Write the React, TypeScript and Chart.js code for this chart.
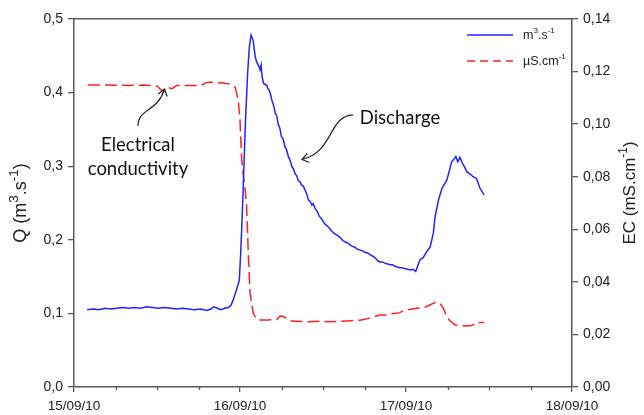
import React, { useEffect, useRef } from "react";
import { Chart, registerables } from "chart.js";

Chart.register(...registerables);

// Hours since 15/09/10 00:00
const qHours = [1.9, 2.8, 3.6, 4.5, 5.3, 6.2, 7.0, 7.9, 8.8, 9.6, 10.5, 11.4, 12.2, 13.1, 14.0, 14.8, 15.7, 16.6, 17.4, 18.3, 19.2, 19.8, 20.2, 20.7, 21.2, 21.8, 22.3, 22.7, 23.0, 23.5, 23.9, 24.1, 24.3, 24.6, 24.8, 25.1, 25.35, 25.6, 25.9, 26.2, 26.4, 26.7, 26.9, 27.05, 27.2, 27.4, 27.86, 28.0, 28.2, 28.4, 28.6, 28.85, 29.1, 29.3, 29.5, 29.75, 30.0, 30.25, 30.5, 30.75, 31.0, 31.25, 31.5, 31.7, 31.95, 32.2, 32.4, 32.65, 32.9, 33.15, 33.4, 33.65, 33.9, 34.15, 34.4, 34.6, 34.85, 35.2, 35.5, 35.85, 36.2, 36.6, 37.0, 37.35, 37.7, 38.1, 38.5, 38.85, 39.2, 39.55, 39.9, 40.25, 40.6, 41.0, 41.35, 41.7, 42.1, 42.45, 42.8, 43.15, 43.5, 43.85, 44.2, 44.6, 45.0, 45.35, 45.7, 46.05, 46.4, 46.75, 47.1, 47.45, 47.8, 48.2, 48.6, 49.0, 49.4, 50.0, 50.5, 51.0, 51.5, 51.95, 52.2, 52.7, 53.2, 53.9, 54.3, 54.6, 54.9, 55.2, 55.5, 55.8, 56.1, 56.4, 56.8, 57.3, 57.7, 58.2, 58.7, 59.3];
const qValues = [0.105, 0.106, 0.105, 0.107, 0.106, 0.107, 0.108, 0.107, 0.108, 0.107, 0.109, 0.108, 0.107, 0.108, 0.107, 0.106, 0.107, 0.106, 0.105, 0.106, 0.104, 0.106, 0.109, 0.107, 0.105, 0.107, 0.108, 0.111, 0.118, 0.132, 0.145, 0.182, 0.227, 0.308, 0.363, 0.426, 0.462, 0.478, 0.471, 0.449, 0.442, 0.436, 0.431, 0.4375, 0.4216, 0.4125, 0.41, 0.406, 0.4035, 0.398, 0.39, 0.383, 0.372, 0.369, 0.358, 0.352, 0.34, 0.337, 0.3265, 0.322, 0.313, 0.308, 0.2993, 0.297, 0.29, 0.287, 0.281, 0.279, 0.2745, 0.273, 0.2677, 0.262, 0.254, 0.252, 0.247, 0.249, 0.2428, 0.238, 0.2314, 0.228, 0.222, 0.219, 0.215, 0.211, 0.208, 0.206, 0.203, 0.199, 0.197, 0.196, 0.193, 0.191, 0.19, 0.187, 0.186, 0.185, 0.183, 0.182, 0.18, 0.178, 0.176, 0.172, 0.17, 0.17, 0.168, 0.167, 0.166, 0.166, 0.164, 0.163, 0.162, 0.162, 0.161, 0.16, 0.159, 0.16, 0.157, 0.1726, 0.176, 0.184, 0.1906, 0.209, 0.231, 0.254, 0.27, 0.281, 0.295, 0.306, 0.309, 0.313, 0.306, 0.312, 0.305, 0.3, 0.2925, 0.289, 0.2857, 0.283, 0.27, 0.261];

const ecHours = [2.0, 5.0, 8.0, 10.0, 12.0, 12.6, 13.0, 13.4, 14.2, 14.8, 16.0, 17.5, 18.5, 19.0, 19.8, 20.6, 21.2, 21.8, 22.4, 22.9, 23.3, 23.75, 24.0, 24.25, 24.5, 24.7, 24.96, 25.2, 25.45, 25.9, 26.3, 26.65, 28.0, 29.3, 29.8, 30.3, 31.2, 33.6, 35.6, 37.0, 38.5, 40.0, 41.35, 42.8, 44.2, 45.0, 46.2, 47.0, 47.6, 49.5, 50.5, 51.2, 52.2, 52.9, 53.4, 53.9, 54.4, 55.1, 56.8, 57.5, 58.2, 59.3];
const ecValues = [0.1149, 0.1149, 0.1147, 0.1149, 0.1145, 0.113, 0.1125, 0.114, 0.1135, 0.1147, 0.1147, 0.1147, 0.1149, 0.1157, 0.116, 0.1155, 0.1158, 0.1156, 0.1153, 0.1148, 0.114, 0.1092, 0.1016, 0.0864, 0.08, 0.0762, 0.0686, 0.051, 0.0358, 0.0282, 0.0262, 0.0255, 0.0255, 0.0257, 0.027, 0.0268, 0.0251, 0.0248, 0.025, 0.0248, 0.025, 0.0252, 0.0254, 0.0262, 0.0274, 0.0274, 0.028, 0.0282, 0.029, 0.03, 0.0301, 0.0309, 0.0321, 0.0319, 0.03, 0.0267, 0.025, 0.0236, 0.0232, 0.0234, 0.0245, 0.0245];

const xTickLabels = ["15/09/10", "16/09/10", "17/09/10", "18/09/10"];
// text segments: [text, isSuperscript]
const seriesLabelParts: [string, boolean][][] = [
  [["m", false], ["3", true], [".s", false], ["-1", true]],
  [["µS.cm", false], ["-1", true]],
];
const axisTitleParts: [string, boolean][][] = [
  [["Q (m", false], ["3", true], [".s", false], ["-1", true], [")", false]],
  [["EC (mS.cm", false], ["-1", true], [")", false]],
];
const annotationTexts = ["Electrical", "conductivity", "Discharge"];

const BLUE = "#2323ff";
const RED = "#ff2020";
const AXIS = "#5a5a5a";
const TXT = "#222222";
const TICK_FONT = "Liberation Sans, Arial, sans-serif";

function richText(ctx: CanvasRenderingContext2D, parts: [string, boolean][], x: number, y: number, size: number, align: "left" | "center", supScale = 0.65) {
  const big = size + "px " + TICK_FONT;
  const small = (size * supScale).toFixed(1) + "px " + TICK_FONT;
  let w = 0;
  for (const [t, sup] of parts) {
    ctx.font = sup ? small : big;
    w += ctx.measureText(t).width;
  }
  let cx = align === "center" ? x - w / 2 : x;
  ctx.textAlign = "left";
  ctx.textBaseline = "middle";
  for (const [t, sup] of parts) {
    ctx.font = sup ? small : big;
    ctx.fillText(t, cx, sup ? y - size * 0.38 : y);
    cx += ctx.measureText(t).width;
  }
}

function bezierArrow(ctx: CanvasRenderingContext2D, pts: number[][]) {
  const [p0, p1, p2, p3] = pts;
  ctx.beginPath();
  ctx.moveTo(p0[0], p0[1]);
  ctx.bezierCurveTo(p1[0], p1[1], p2[0], p2[1], p3[0], p3[1]);
  ctx.stroke();
  const ang = Math.atan2(p3[1] - p2[1], p3[0] - p2[0]);
  const L = 8;
  const a = 0.62;
  ctx.beginPath();
  ctx.moveTo(p3[0] - L * Math.cos(ang - a), p3[1] - L * Math.sin(ang - a));
  ctx.lineTo(p3[0], p3[1]);
  ctx.lineTo(p3[0] - L * Math.cos(ang + a), p3[1] - L * Math.sin(ang + a));
  ctx.stroke();
}

const decor = {
  id: "decor",
  afterDraw(chart: any) {
    const { ctx, chartArea, scales } = chart;
    const xs = scales.x;
    const ys = scales.y;
    const P = (h: number, q: number) => [xs.getPixelForValue(h), ys.getPixelForValue(q)];
    ctx.save();

    // minor ticks on x axis
    ctx.strokeStyle = AXIS;
    ctx.lineWidth = 1.3;
    for (const t of xs.ticks) {
      if (t.value % 24 !== 0) {
        const px = Math.round(xs.getPixelForValue(t.value)) + 0.5;
        ctx.beginPath();
        ctx.moveTo(px, chartArea.bottom);
        ctx.lineTo(px, chartArea.bottom + 3);
        ctx.stroke();
      }
    }

    // axis titles
    ctx.fillStyle = TXT;
    ctx.save();
    ctx.translate(21, (chartArea.top + chartArea.bottom) / 2);
    ctx.rotate(-Math.PI / 2);
    richText(ctx, axisTitleParts[0], 0, 0, 18, "center", 0.75);
    ctx.restore();
    ctx.save();
    ctx.translate(630, (chartArea.top + chartArea.bottom) / 2 - 10);
    ctx.rotate(-Math.PI / 2);
    richText(ctx, axisTitleParts[1], 0, 0, 17, "center", 0.7);
    ctx.restore();

    // legend
    const lx0 = chartArea.right - 105;
    const lx1 = chartArea.right - 59;
    const ltx = chartArea.right - 49;
    const ly0 = chartArea.top + 16;
    const ly1 = chartArea.top + 42;
    ctx.lineWidth = 1.4;
    ctx.strokeStyle = BLUE;
    ctx.beginPath();
    ctx.moveTo(lx0, ly0);
    ctx.lineTo(lx1, ly0);
    ctx.stroke();
    ctx.strokeStyle = RED;
    ctx.setLineDash([8, 5]);
    ctx.beginPath();
    ctx.moveTo(lx0, ly1);
    ctx.lineTo(lx1, ly1);
    ctx.stroke();
    ctx.setLineDash([]);
    ctx.fillStyle = TXT;
    richText(ctx, seriesLabelParts[0], ltx, ly0 + 1, 12.5, "left");
    richText(ctx, seriesLabelParts[1], ltx, ly1 + 1, 12.5, "left");

    // annotations
    ctx.font = "18.5px Lato, sans-serif";
    ctx.textAlign = "center";
    ctx.textBaseline = "middle";
    ctx.fillStyle = "#111";
    const e1 = P(9.25, 0.3288);
    const e2 = P(9.25, 0.2962);
    const d1 = P(47.13, 0.3655);
    ctx.fillText(annotationTexts[0], e1[0], e1[1]);
    ctx.fillText(annotationTexts[1], e2[0], e2[1]);
    ctx.fillText(annotationTexts[2], d1[0], d1[1]);

    ctx.strokeStyle = "#222";
    ctx.lineWidth = 1.2;
    bezierArrow(ctx, [P(9.25, 0.3546), P(9.25, 0.3791), P(12.14, 0.3736), P(13.08, 0.4049)]);
    bezierArrow(ctx, [P(40.34, 0.3696), P(36.72, 0.3682), P(37.59, 0.3193), P(32.96, 0.3091)]);

    ctx.restore();
  },
};

export default function App() {
  const ref = useRef<HTMLCanvasElement | null>(null);
  useEffect(() => {
    if (!ref.current) return;
    const qData = qHours.map((h, i) => ({ x: h, y: qValues[i] }));
    const ecData = ecHours.map((h, i) => ({ x: h, y: ecValues[i] }));
    const chart = new Chart(ref.current, {
      type: "line",
      data: {
        datasets: [
          {
            label: "Q",
            data: qData,
            yAxisID: "y",
            borderColor: BLUE,
            borderWidth: 1.5,
            pointRadius: 0,
            tension: 0,
            fill: false,
          },
          {
            label: "EC",
            data: ecData,
            yAxisID: "y1",
            borderColor: RED,
            borderWidth: 1.5,
            borderDash: [12, 5],
            pointRadius: 0,
            tension: 0,
            fill: false,
          },
        ],
      },
      options: {
        responsive: false,
        animation: false,
        devicePixelRatio: 1,
        layout: { padding: 0 },
        plugins: { legend: { display: false }, tooltip: { enabled: false }, title: { display: false } },
        scales: {
          y: {
            type: "linear",
            position: "left",
            min: 0,
            max: 0.5,
            afterFit: (s: any) => { s.width = 74; },
            ticks: {
              stepSize: 0.1,
              padding: 5,
              color: TXT,
              font: { family: TICK_FONT, size: 14 },
              callback: (v: any) => Number(v).toFixed(1).replace(".", ","),
            },
            grid: { drawOnChartArea: false, tickLength: 6, color: AXIS, lineWidth: 1.3 },
            border: { color: AXIS, width: 1.5 },
          },
          y1: {
            type: "linear",
            position: "right",
            min: 0,
            max: 0.14,
            afterFit: (s: any) => { s.width = 72; },
            ticks: {
              stepSize: 0.02,
              padding: 5,
              color: TXT,
              font: { family: TICK_FONT, size: 14 },
              callback: (v: any) => Number(v).toFixed(2).replace(".", ","),
            },
            grid: { drawOnChartArea: false, tickLength: 6, color: AXIS, lineWidth: 1.3 },
            border: { color: AXIS, width: 1.5 },
          },
          x: {
            type: "linear",
            position: "bottom",
            min: 0,
            max: 72,
            afterFit: (s: any) => { s.height = 28; },
            ticks: {
              stepSize: 6,
              autoSkip: false,
              maxRotation: 0,
              padding: 6,
              color: TXT,
              font: { family: TICK_FONT, size: 13.5 },
              callback: (v: any) => (Number(v) % 24 === 0 ? xTickLabels[Number(v) / 24] : ""),
            },
            grid: {
              drawOnChartArea: false,
              tickLength: 5,
              lineWidth: 1.3,
              color: (c: any) => (c.tick && c.tick.value % 24 === 0 ? AXIS : "rgba(0,0,0,0)"),
            },
            border: { color: AXIS, width: 1.5 },
          },
          x2: {
            type: "linear",
            position: "top",
            min: 0,
            max: 72,
            afterFit: (s: any) => { s.height = 19; },
            ticks: { display: false },
            grid: { drawOnChartArea: false, drawTicks: false },
            border: { color: AXIS, width: 1.5 },
          },
        },
      },
      plugins: [decor],
    });
    return () => chart.destroy();
  }, []);
  return (
    <div style={{ position: "fixed", left: 0, top: 0, width: 644, height: 415, background: "#fff" }}>
      <canvas ref={ref} width={644} height={415} />
    </div>
  );
}
